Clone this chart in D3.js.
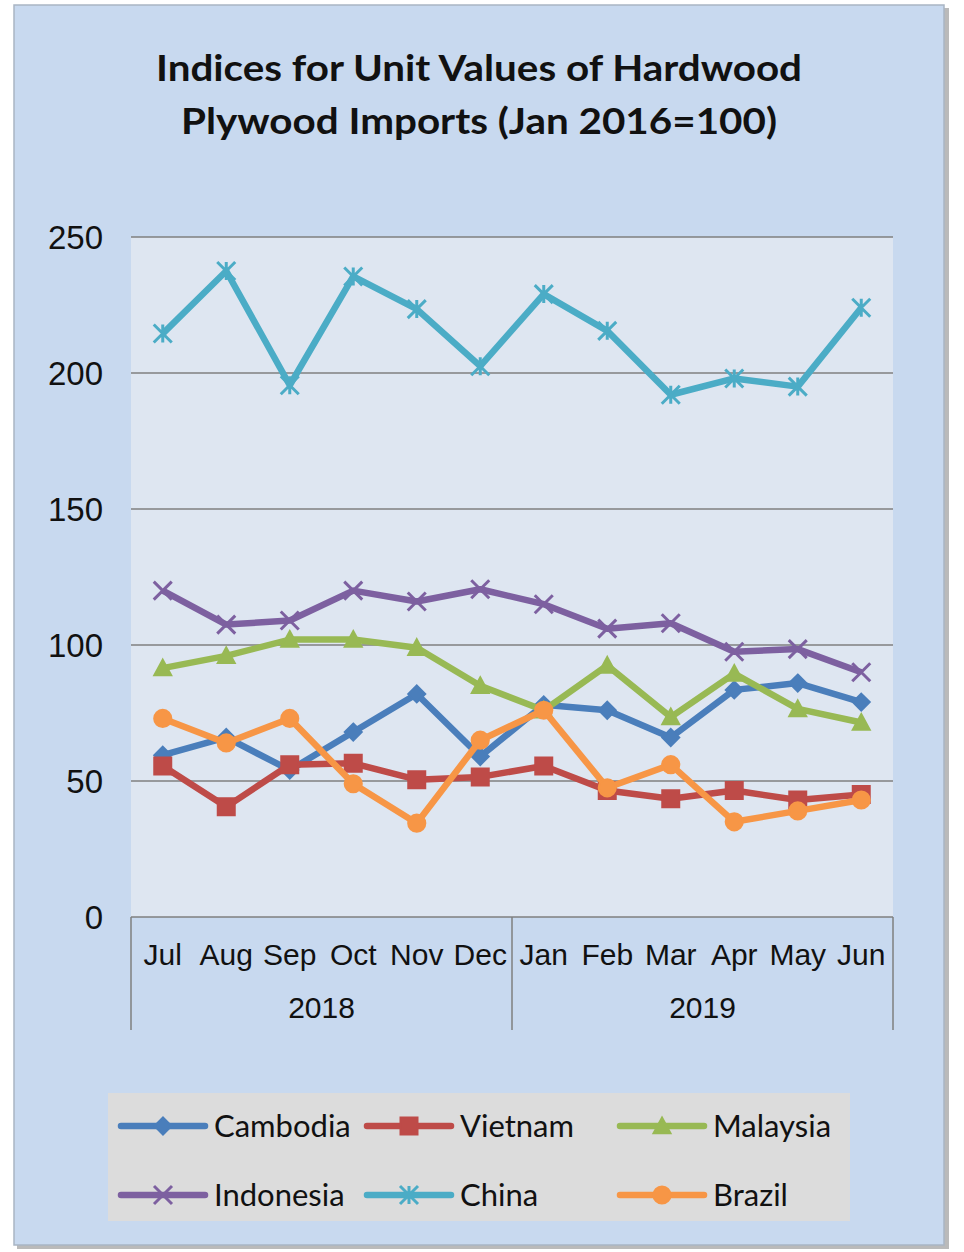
<!DOCTYPE html>
<html><head><meta charset="utf-8">
<script src="https://cdn.jsdelivr.net/npm/d3@7"></script>
<style>body{margin:0;background:#fff}svg{display:block}</style>
</head><body>
<script>
const months = ["Jul","Aug","Sep","Oct","Nov","Dec","Jan","Feb","Mar","Apr","May","Jun"];
const years = [{label:"2018", from:0, to:6},{label:"2019", from:6, to:12}];
const yTicks = [0,50,100,150,200,250];
const cambodia  = [59.5,66,54,68,82,59,78,76,66,83.5,86,79];
const vietnam   = [55.5,40.5,56,56.5,50.5,51.5,55.5,46.5,43.5,46.5,43,45];
const malaysia  = [91.5,96,102,102,99,85,76,92.5,73.5,89.5,76.5,71.5];
const indonesia = [120,107.5,109,120,116,120.5,115,106,108,97.5,98.5,90];
const china     = [214.5,237.5,195.5,235.5,223.5,202.5,229,215.5,192,198,195,224];
const brazil    = [73,64,73,49,34.5,65,76,47.5,56,35,39,43];
const seriesNames = ["Cambodia","Vietnam","Malaysia","Indonesia","China","Brazil"];
const seriesData = [cambodia, vietnam, malaysia, indonesia, china, brazil];
const colors = ["#4a7ebb","#be4b48","#98b954","#7d60a0","#4bacc6","#f79646"];
const markers = ["diamond","square","triangle","x","star","circle"];

const W=964,H=1252;
const svg=d3.select("body").append("svg").attr("width",W).attr("height",H);
// outer frame
svg.append("rect").attr("x",17).attr("y",8).attr("width",932).attr("height",1241).attr("fill","#8c8c8c").attr("opacity",0.6);
svg.append("rect").attr("x",14).attr("y",5).attr("width",930).attr("height",1240).attr("fill","#c8d9ef").attr("stroke","#a9b5c4").attr("stroke-width",1.5);

// title
const title = svg.append("text").attr("text-anchor","middle").attr("font-family","Lato, 'Open Sans', sans-serif").attr("font-weight","bold").attr("font-size",37).attr("fill","#111");
title.append("tspan").attr("x",479).attr("y",81).attr("textLength",646).attr("lengthAdjust","spacingAndGlyphs").text("Indices for Unit Values of Hardwood");
title.append("tspan").attr("x",479).attr("y",134).attr("textLength",596).attr("lengthAdjust","spacingAndGlyphs").text("Plywood Imports (Jan 2016=100)");

const L=131,R=893,T=237,B=917;
svg.append("rect").attr("x",L).attr("y",T).attr("width",R-L).attr("height",B-T).attr("fill","#dee6f1");

const x=d3.scaleBand().domain(d3.range(12)).range([L,R]);
const y=d3.scaleLinear().domain([0,250]).range([B,T]);
const cx=i=>x(i)+x.bandwidth()/2;

// gridlines
svg.append("g").selectAll("line").data(yTicks.slice(1)).join("line")
  .attr("x1",L).attr("x2",R).attr("y1",d=>y(d)).attr("y2",d=>y(d)).attr("stroke","#7f7f7f").attr("stroke-width",1.5);

// y axis labels
const axisFont="'Liberation Sans Narrow', 'Liberation Sans', Arial, sans-serif";
svg.append("g").selectAll("text").data(yTicks).join("text")
  .attr("x",103).attr("y",d=>y(d)+12).attr("text-anchor","end").attr("font-family",axisFont).attr("font-size",33).attr("fill","#111").text(d=>d);

// x axis
svg.append("line").attr("x1",L).attr("x2",R).attr("y1",B).attr("y2",B).attr("stroke","#7f7f7f").attr("stroke-width",1.5);
const sepX=[x(0),x(6),R];
svg.append("g").selectAll("line").data(sepX).join("line")
  .attr("x1",d=>d).attr("x2",d=>d).attr("y1",B).attr("y2",1030).attr("stroke","#7f7f7f").attr("stroke-width",1.5);
svg.append("g").selectAll("text").data(months).join("text")
  .attr("x",(d,i)=>cx(i)).attr("y",965).attr("text-anchor","middle").attr("font-family",axisFont).attr("font-size",30).attr("fill","#111").text(d=>d);
svg.append("g").selectAll("text").data(years).join("text")
  .attr("x",d=>(x(d.from)+ (d.to<12?x(d.to):R))/2).attr("y",1018).attr("text-anchor","middle").attr("font-family",axisFont).attr("font-size",30).attr("fill","#111").text(d=>d.label);

function markerPath(type,s){
  const h=s/2;
  switch(type){
    case "diamond": return `M0,${-h}L${h},0L0,${h}L${-h},0Z`;
    case "square": return `M${-h},${-h}H${h}V${h}H${-h}Z`;
    case "triangle": return `M0,${-h}L${h},${h*0.85}L${-h},${h*0.85}Z`;
    case "x": return `M${-h},${-h}L${h},${h}M${h},${-h}L${-h},${h}`;
    case "star": return `M${-h},${-h}L${h},${h}M${h},${-h}L${-h},${h}M0,${-h}V${h}`;
    case "circle": return d3.symbol(d3.symbolCircle, s*s*0.8)();
  }
}
const line=d3.line().x((d,i)=>cx(i)).y(d=>y(d));
seriesData.forEach((data,k)=>{
  const g=svg.append("g");
  g.append("path").attr("d",line(data)).attr("fill","none").attr("stroke",colors[k]).attr("stroke-width",6.5).attr("stroke-linejoin","round");
  const open = markers[k]==="x"||markers[k]==="star";
  g.selectAll("path.m").data(data).join("path").attr("class","m")
    .attr("transform",(d,i)=>`translate(${cx(i)},${y(d)})`)
    .attr("d",markerPath(markers[k], open?18:17))
    .attr("fill",open?"none":colors[k]).attr("stroke",colors[k]).attr("stroke-width",open?3:2);
});

// legend
svg.append("rect").attr("x",108).attr("y",1093).attr("width",742).attr("height",128).attr("fill","#dcdcdc");
const legX=[121,367,620], legY=[1126,1195];
const legFont="Lato, 'Open Sans', sans-serif";
seriesNames.forEach((n,k)=>{
  const lx=legX[k%3], ly=legY[Math.floor(k/3)];
  const g=svg.append("g");
  g.append("line").attr("x1",lx).attr("x2",lx+84).attr("y1",ly).attr("y2",ly).attr("stroke",colors[k]).attr("stroke-width",6.5).attr("stroke-linecap","round");
  const open = markers[k]==="x"||markers[k]==="star";
  g.append("path").attr("transform",`translate(${lx+42},${ly})`).attr("d",markerPath(markers[k],open?18:17))
    .attr("fill",open?"none":colors[k]).attr("stroke",colors[k]).attr("stroke-width",open?3:2);
  g.append("text").attr("x",lx+93).attr("y",ly+11).attr("font-family",legFont).attr("font-size",31).attr("fill","#111").text(n);
});
</script>
</body></html>
